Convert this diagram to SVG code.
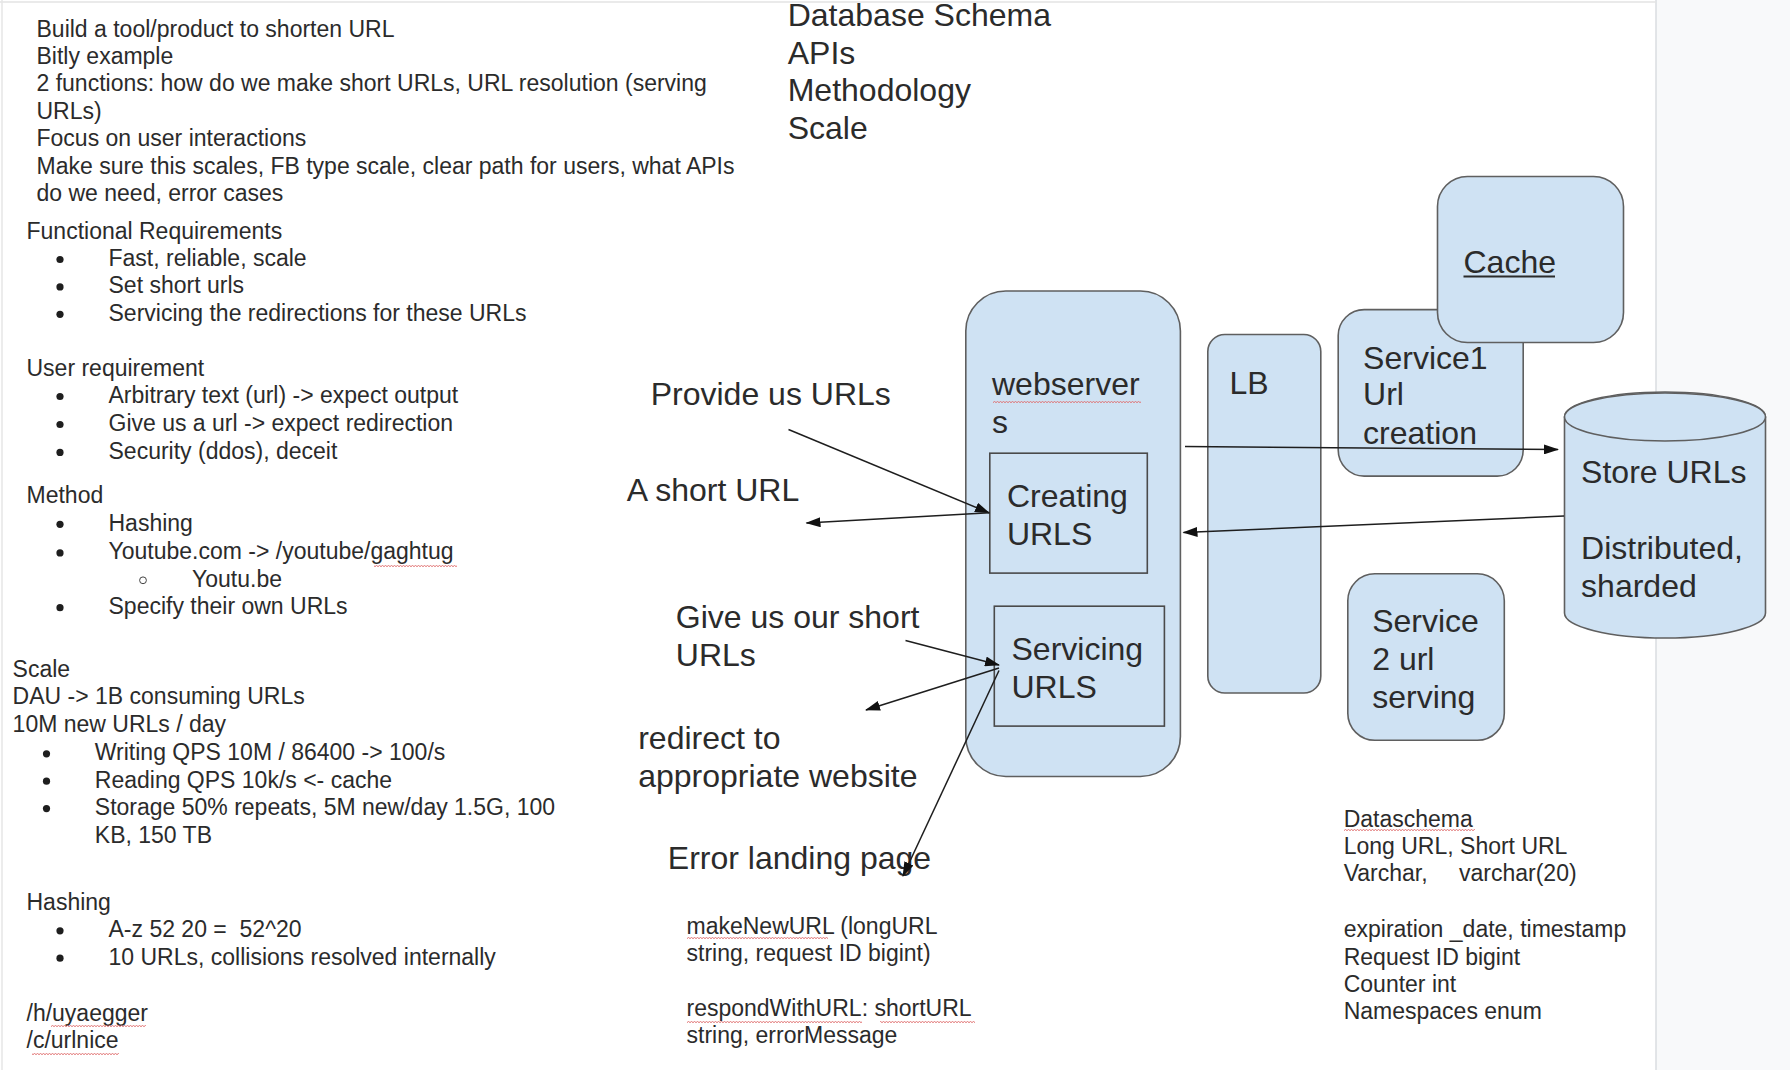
<svg xmlns="http://www.w3.org/2000/svg" width="1790" height="1070" viewBox="0 0 1790 1070">
<defs>
<style>
.t{font-family:"Liberation Sans",Arial,sans-serif;font-size:23px;fill:#2b2b2b}
.L{font-size:32px}
.box{fill:#cfe2f3;stroke:#5f5f5f;stroke-width:1.6}
.in{fill:#cfe2f3;stroke:#4a4a4a;stroke-width:1.6}
.cn{stroke:#1e1e1e;stroke-width:1.5;fill:none;marker-end:url(#ah)}
.sq{fill:url(#wv)}
.bl{fill:#1e1e1e}
</style>
<marker id="ah" markerWidth="15" markerHeight="10" refX="14" refY="5" orient="auto" markerUnits="userSpaceOnUse"><path d="M0,0 L15,5 L0,10 z" fill="#111"/></marker>
<pattern id="wv" width="6" height="4" patternUnits="userSpaceOnUse"><path d="M0,3 L1.5,1 L3,3 L4.5,1 L6,3" stroke="#e07070" stroke-width="0.8" fill="none"/></pattern>
</defs>
<rect width="1790" height="1070" fill="#ffffff"/>
<rect x="1656" y="0" width="134" height="1070" fill="#f8f9fa"/>
<line x1="1656" y1="0" x2="1656" y2="1070" stroke="#dadce0" stroke-width="1.5"/>
<line x1="0" y1="2" x2="1656" y2="2" stroke="#e3e3e3" stroke-width="1.5"/>
<line x1="2" y1="0" x2="2" y2="1070" stroke="#e6e6e6" stroke-width="1.5"/>

<g id="notes-left" class="t">
<text x="36.5" y="36.5">Build a tool/product to shorten URL</text>
<text x="36.5" y="63.9">Bitly example</text>
<text x="36.5" y="91.3">2 functions: how do we make short URLs, URL resolution (serving</text>
<text x="36.5" y="118.7">URLs)</text>
<text x="36.5" y="146.1">Focus on user interactions</text>
<text x="36.5" y="173.5">Make sure this scales, FB type scale, clear path for users, what APIs</text>
<text x="36.5" y="200.9">do we need, error cases</text>
<text x="26.5" y="238.6">Functional Requirements</text>
<text x="108.5" y="266">Fast, reliable, scale</text>
<text x="108.5" y="293.4">Set short urls</text>
<text x="108.5" y="320.8">Servicing the redirections for these URLs</text>
<text x="26.5" y="375.6">User requirement</text>
<text x="108.5" y="403">Arbitrary text (url) -&gt; expect output</text>
<text x="108.5" y="431">Give us a url -&gt; expect redirection</text>
<text x="108.5" y="458.9">Security (ddos), deceit</text>
<text x="26.5" y="503.4">Method</text>
<text x="108.5" y="530.8">Hashing</text>
<text x="108.5" y="559.4">Youtube.com -&gt; /youtube/gaghtug</text>
<text x="192" y="586.8">Youtu.be</text>
<text x="108.5" y="614.2">Specify their own URLs</text>
<text x="12.6" y="677">Scale</text>
<text x="12.6" y="704.4">DAU -&gt; 1B consuming URLs</text>
<text x="12.6" y="731.8">10M new URLs / day</text>
<text x="94.8" y="760.3">Writing QPS 10M / 86400 -&gt; 100/s</text>
<text x="94.8" y="787.7">Reading QPS 10k/s &lt;- cache</text>
<text x="94.8" y="815.1">Storage 50% repeats, 5M new/day 1.5G, 100</text>
<text x="94.8" y="842.5">KB, 150 TB</text>
<text x="26.5" y="909.9">Hashing</text>
<text x="108.5" y="937.3">A-z 52 20 = &#160;52^20</text>
<text x="108.5" y="964.7">10 URLs, collisions resolved internally</text>
<text x="26.5" y="1020.6">/h/uyaegger</text>
<text x="26.5" y="1048">/c/urlnice</text>
<circle class="bl" cx="60" cy="259.5" r="3.6"/>
<circle class="bl" cx="60" cy="286.9" r="3.6"/>
<circle class="bl" cx="60" cy="314.3" r="3.6"/>
<circle class="bl" cx="60" cy="396.5" r="3.6"/>
<circle class="bl" cx="60" cy="424.5" r="3.6"/>
<circle class="bl" cx="60" cy="452.4" r="3.6"/>
<circle class="bl" cx="60" cy="524.3" r="3.6"/>
<circle class="bl" cx="60" cy="552.9" r="3.6"/>
<circle cx="143" cy="580.3" r="3.4" fill="none" stroke="#444" stroke-width="1"/>
<circle class="bl" cx="60" cy="607.7" r="3.6"/>
<circle class="bl" cx="46.5" cy="753.8" r="3.6"/>
<circle class="bl" cx="46.5" cy="781.2" r="3.6"/>
<circle class="bl" cx="46.5" cy="808.6" r="3.6"/>
<circle class="bl" cx="60" cy="930.8" r="3.6"/>
<circle class="bl" cx="60" cy="958.2" r="3.6"/>
<rect class="sq" x="374" y="563" width="83" height="4"/>
<rect class="sq" x="51" y="1025" width="95" height="4"/>
<rect class="sq" x="32" y="1052" width="87" height="4"/>
</g>

<g id="agenda" class="t L">
<text x="787.7" y="26">Database Schema</text>
<text x="787.7" y="63.7">APIs</text>
<text x="787.7" y="101.4">Methodology</text>
<text x="787.7" y="139.1">Scale</text>
</g>

<g id="labels-mid" class="t L">
<text x="650.7" y="405.3">Provide us URLs</text>
<text x="626.7" y="501.2">A short URL</text>
<text x="675.8" y="627.9">Give us our short</text>
<text x="675.8" y="665.5">URLs</text>
<text x="638.2" y="748.9">redirect to</text>
<text x="638.2" y="786.6">appropriate website</text>
<text x="667.8" y="868.8">Error landing page</text>
</g>

<g id="apis" class="t">
<text x="686.5" y="933.8">makeNewURL (longURL</text>
<text x="686.5" y="961.2">string, request ID bigint)</text>
<text x="686.5" y="1016">respondWithURL: shortURL</text>
<text x="686.5" y="1043.4">string, errorMessage</text>
<rect class="sq" x="687" y="937" width="141" height="4"/>
<rect class="sq" x="687" y="1019" width="175" height="4"/>
<rect class="sq" x="880" y="1019" width="95" height="4"/>
</g>

<g id="dataschema" class="t">
<text x="1343.7" y="826.5">Dataschema</text>
<text x="1343.7" y="853.9">Long URL, Short URL</text>
<text x="1343.7" y="881.3">Varchar,<tspan x="1459">varchar(20)</tspan></text>
<text x="1343.7" y="937.3">expiration _date, timestamp</text>
<text x="1343.7" y="964.7">Request ID bigint</text>
<text x="1343.7" y="992">Counter int</text>
<text x="1343.7" y="1019.4">Namespaces enum</text>
<rect class="sq" x="1344" y="829" width="131" height="4"/>
</g>

<g id="webservers">
<rect class="box" x="965.8" y="291" width="214.6" height="485.5" rx="40"/>
<text class="t L" x="992" y="395">webserver</text>
<text class="t L" x="992" y="432.7">s</text>
<rect class="sq" x="993" y="399.5" width="148" height="4"/>
</g>
<g id="creating-urls">
<rect class="in" x="989.8" y="453.2" width="157.5" height="119.9"/>
<text class="t L" x="1006.9" y="506.9">Creating</text>
<text class="t L" x="1006.9" y="544.5">URLS</text>
</g>
<g id="servicing-urls">
<rect class="in" x="994.3" y="606.2" width="170.1" height="119.9"/>
<text class="t L" x="1011.5" y="659.8">Servicing</text>
<text class="t L" x="1011.5" y="697.5">URLS</text>
</g>
<g id="lb">
<rect class="box" x="1207.8" y="334.5" width="113" height="358.5" rx="17"/>
<text class="t L" x="1229.5" y="393.9">LB</text>
</g>
<g id="service1">
<rect class="box" x="1338.2" y="309.6" width="185" height="166.5" rx="26"/>
<text class="t L" x="1363.1" y="368.7">Service1</text>
<text class="t L" x="1363.1" y="405.3">Url</text>
<text class="t L" x="1363.1" y="444.1">creation</text>
</g>
<g id="cache">
<rect class="box" x="1437.5" y="176.5" width="186" height="166" rx="30"/>
<text class="t L" x="1463.5" y="272.8">Cache</text>
<line x1="1463.5" y1="276.5" x2="1555" y2="276.5" stroke="#2b2b2b" stroke-width="1.8"/>
</g>
<g id="store-urls">
<path class="box" d="M1564.5,417 L1564.5,613 A100.5,25 0 0 0 1765.5,613 L1765.5,417 A100.5,25 0 0 0 1564.5,417 z"/>
<ellipse class="box" cx="1665" cy="417" rx="100.5" ry="24"/>
<text class="t L" x="1581.1" y="482.9">Store URLs</text>
<text class="t L" x="1581.1" y="559.4">Distributed,</text>
<text class="t L" x="1581.1" y="597.1">sharded</text>
</g>
<g id="service2">
<rect class="box" x="1347.8" y="573.8" width="156.5" height="166.5" rx="27"/>
<text class="t L" x="1372.2" y="632.4">Service</text>
<text class="t L" x="1372.2" y="670.1">2 url</text>
<text class="t L" x="1372.2" y="707.8">serving</text>
</g>

<g id="connectors">
<line class="cn" x1="788.5" y1="429.5" x2="989" y2="512.8"/>
<line class="cn" x1="989.5" y1="512.8" x2="806.5" y2="523"/>
<line class="cn" x1="1185" y1="446.6" x2="1558" y2="449.5"/>
<line class="cn" x1="1564" y1="516" x2="1183.5" y2="532.5"/>
<line class="cn" x1="905.5" y1="640.5" x2="999" y2="665"/>
<line class="cn" x1="999" y1="668" x2="866" y2="710"/>
<line class="cn" x1="999" y1="670.5" x2="903" y2="876"/>
</g>
</svg>
